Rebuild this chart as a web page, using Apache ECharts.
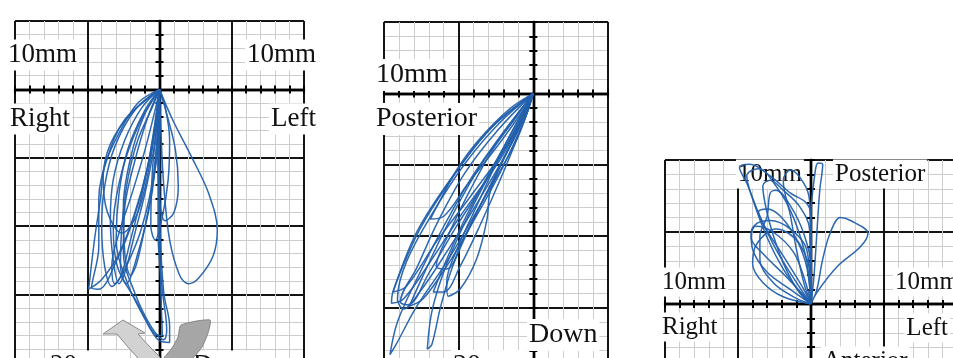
<!DOCTYPE html>
<html>
<head>
<meta charset="utf-8">
<script src="https://cdn.jsdelivr.net/npm/echarts@6/dist/echarts.min.js"></script>
<style>
  html, body { margin: 0; padding: 0; background: #fff; }
  #chart { width: 953px; height: 358px; }
</style>
</head>
<body>
<div id="chart"></div>
<script>
// Mandibular movement traces, in mm from the start point.
// Frontal view: x = right(-)/left(+), y = up(+)/down(-)
const frontalLoops = [
  [[0,0],[-1.5,-1.0],[-2.8,-3.2],[-3.8,-5.6],[-4.1,-8.1],[-4.5,-11.0],[-4.9,-14.6],[-4.0,-13.9],[-2.8,-12.0],[-1.7,-9.0],[-0.8,-5.6],[-0.2,-2.2],[0,0]],
  [[0,0],[-1.7,-1.5],[-3.1,-4.2],[-3.8,-7.1],[-4.0,-10.0],[-3.8,-12.9],[-3.3,-14.4],[-2.7,-13.7],[-2.0,-11.0],[-1.2,-7.6],[-0.5,-3.9],[0,0]],
  [[0,0],[-1.2,-1.3],[-2.4,-3.7],[-3.2,-6.6],[-3.4,-9.5],[-3.2,-12.5],[-2.8,-14.2],[-2.4,-13.4],[-1.7,-10.5],[-0.9,-7.1],[-0.3,-3.7],[0,0]],
  [[0,0],[-1.0,-1.5],[-2.2,-4.4],[-2.8,-7.6],[-3.0,-11.0],[-2.2,-14.2],[-1.0,-16.8],[-0.1,-18.3],[0.7,-18.5],[0.7,-17.3],[0.3,-14.9],[0.05,-10.5],[0,-5.6],[0,0]],
  [[0,0],[-0.8,-2.0],[-1.7,-5.2],[-2.4,-8.6],[-2.5,-12.0],[-1.7,-14.9],[-0.6,-17.3],[0.3,-18.3],[0.5,-17.6],[0.2,-14.7],[-0.1,-10.5],[-0.1,-5.2],[0,0]],
  [[0,0],[-0.5,-1.3],[-1.5,-3.7],[-2.2,-6.6],[-2.6,-10.0],[-2.7,-12.9],[-2.3,-14.2],[-1.5,-12.0],[-0.6,-8.1],[-0.2,-4.4],[0,0]],
  [[0,0],[0.5,-1.8],[1.1,-4.4],[1.3,-7.1],[1.0,-9.0],[0.4,-9.6],[0,-8.0],[-0.1,-4.4],[0,0]],
  [[0,0],[-0.3,-1.5],[-1.0,-4.4],[-1.9,-7.6],[-2.8,-10.5],[-3.3,-12.9],[-3.1,-14.2],[-2.2,-12.7],[-1.2,-10.0],[-0.4,-6.1],[0,0]],
  [[0,0],[0.4,-1.3],[0.7,-3.7],[0.6,-6.6],[0.2,-9.3],[-0.3,-11.0],[-0.6,-10.0],[-0.5,-6.1],[-0.2,-2.7],[0,0]],
  [[0,0],[0.9,-2.2],[2.2,-4.9],[3.4,-7.6],[4.0,-10.3],[3.7,-12.2],[2.7,-13.8],[2.0,-14.2],[1.4,-13.6],[0.7,-11.0],[0.3,-7.1],[0.1,-3.2],[0,0]],
  [[0,0],[-2.0,-1.8],[-3.4,-4.0],[-3.9,-6.5],[-3.6,-9.0],[-2.6,-10.5],[-1.5,-9.0],[-0.6,-5.0],[0,0]],
  [[0,0],[-1.4,-2.5],[-2.6,-6.0],[-3.2,-10.0],[-2.9,-13.0],[-1.6,-15.5],[-0.4,-17.8],[0.2,-18.0],[0.1,-15.0],[0,-10.0],[0,0]],
  [[0,0],[-1.1,-2.0],[-2.0,-5.0],[-2.5,-8.5],[-2.4,-12.0],[-2.0,-13.6],[-1.6,-12.8],[-1.0,-10.0],[-0.4,-6.5],[0,-3.0],[0,0]],
  [[0,0],[-2.4,-2.2],[-3.6,-5.0],[-4.2,-8.0],[-4.2,-11.5],[-4.7,-14.5],[-4.2,-14.6],[-3.0,-12.6],[-1.8,-9.5],[-0.8,-5.5],[0,0]]
];

// Sagittal view: x = posterior(-)/anterior(+), y = up(+)/down(-)
const sagittalLoops = [
  [[0,0],[-2.7,-2.3],[-5.4,-5.8],[-7.8,-9.7],[-9.4,-13.9],[-9.5,-14.7],[-8.7,-14.4],[-7.1,-12.1],[-4.9,-8.6],[-2.2,-4.6],[-0.4,-1.1],[0,0]],
  [[0,0],[-2.2,-2.0],[-4.5,-4.8],[-6.7,-8.3],[-8.5,-11.8],[-9.1,-14.4],[-8.7,-15.1],[-7.6,-13.9],[-5.8,-11.1],[-3.6,-7.4],[-1.3,-3.2],[0,0]],
  [[0,0],[-1.8,-2.5],[-3.8,-5.5],[-5.8,-9.3],[-7.4,-12.8],[-8.3,-14.9],[-7.4,-14.4],[-5.8,-12.1],[-4.2,-9.3],[-2.2,-5.5],[-0.5,-1.6],[0,0]],
  [[0,0],[-0.9,-2.3],[-2.0,-4.6],[-2.9,-6.9],[-3.1,-8.8],[-3.8,-11.6],[-4.9,-13.7],[-5.7,-14.2],[-5.8,-13.2],[-5.1,-10.9],[-3.8,-7.9],[-1.8,-3.4],[0,0]],
  [[0,0],[-1.3,-2.5],[-2.7,-5.1],[-4.5,-8.6],[-6.0,-12.1],[-6.7,-13.9],[-6.0,-13.9],[-4.9,-12.1],[-3.6,-9.3],[-2.0,-5.5],[-0.5,-1.6],[0,0]],
  [[0,0],[-2.0,-2.7],[-4.2,-6.0],[-6.2,-9.7],[-7.8,-13.0],[-9.1,-16.0],[-9.6,-18.3],[-9.2,-17.6],[-7.8,-14.9],[-5.8,-11.8],[-3.6,-7.9],[-1.1,-3.2],[0,0]],
  [[0,0],[-1.3,-2.7],[-3.1,-6.0],[-4.7,-9.3],[-6.0,-12.5],[-6.8,-15.3],[-7.1,-17.9],[-6.8,-17.6],[-6.2,-14.9],[-5.4,-12.1],[-4.0,-8.8],[-2.0,-4.6],[-0.5,-1.3],[0,0]],
  [[0,0],[-3.1,-2.7],[-5.8,-6.5],[-7.6,-9.5],[-8.9,-12.5],[-9.4,-13.9],[-8.5,-13.5],[-6.5,-10.4],[-4.2,-7.2],[-1.6,-3.4],[0,0]],
  [[0,0],[-1.1,-1.6],[-2.7,-3.9],[-4.2,-6.7],[-5.6,-9.7],[-6.5,-12.1],[-5.8,-12.3],[-4.7,-10.2],[-2.9,-6.5],[-1.1,-2.7],[0,0]],
  [[0,0],[-1.6,-1.1],[-3.6,-3.2],[-5.1,-5.3],[-6.2,-7.4],[-6.9,-8.8],[-6.0,-8.6],[-4.5,-6.5],[-2.2,-3.4],[-0.5,-0.9],[0,0]],
  [[0,0],[-2.4,-2.6],[-4.6,-5.6],[-6.4,-9.0],[-7.8,-12.2],[-8.9,-14.6],[-8.4,-14.8],[-7.0,-12.6],[-5.2,-9.4],[-3.0,-5.8],[-1.0,-2.2],[0,0]]
];

// Horizontal view: x = right(-)/left(+), y = posterior(+)/anterior(-)
const horizontalLoops = [
  [[0,0],[0.4,1.0],[0.8,3.1],[1.3,4.9],[2.0,6.0],[2.7,5.8],[3.9,4.9],[3.4,4.0],[1.8,2.6],[0.4,0.8],[0,0]],
  [[0,0],[0.2,1.9],[0.4,4.9],[0.6,7.9],[0.8,9.7],[0.5,9.8],[0.3,9.3],[0.0,6.1],[0,3.0],[0,0]],
  [[0,0],[-1.0,1.5],[-2.4,3.8],[-3.5,6.1],[-4.4,8.4],[-4.9,9.5],[-4.2,9.7],[-2.8,8.9],[-1.4,7.7],[-0.3,7.0],[0,6.1],[0,3.0],[0,0]],
  [[0,0],[-1.4,1.0],[-3.0,2.2],[-4.0,3.8],[-4.1,4.9],[-3.7,5.6],[-2.8,5.8],[-1.4,5.2],[-0.3,3.8],[0,0]],
  [[0,0],[-1.2,0.5],[-2.6,1.5],[-3.5,3.1],[-3.5,4.7],[-3.0,6.1],[-2.8,7.7],[-2.4,7.9],[-1.4,6.8],[-0.5,4.9],[0,2.6],[0,0]],
  [[0,0],[-0.8,0.8],[-1.7,2.4],[-2.4,4.2],[-3.0,6.3],[-3.3,8.2],[-2.8,8.6],[-1.9,7.9],[-0.8,6.8],[-0.1,5.2],[0,0]],
  [[0,0],[-1.9,0.5],[-3.3,1.5],[-4.0,2.8],[-3.7,4.2],[-2.4,5.2],[-0.8,4.2],[0,1.5],[0,0]],
  [[0,0],[-0.5,1.5],[-1.0,3.8],[-1.4,6.1],[-1.9,8.6],[-1.4,9.3],[-0.5,8.4],[-0.1,7.2],[0,3.8],[0,0]],
  [[0,0],[-0.6,1.2],[-2.0,3.5],[-3.2,5.4],[-3.6,6.4],[-3.0,6.6],[-1.6,5.5],[-0.4,3.0],[0,0]],
  [[0,0],[-0.9,1.0],[-2.0,2.6],[-3.0,4.6],[-3.9,7.0],[-4.4,8.9],[-3.6,9.4],[-2.4,8.2],[-1.2,6.0],[-0.3,3.0],[0,0]],
  [[0,0],[-0.4,1.6],[-1.2,3.6],[-2.6,5.0],[-3.8,5.4],[-4.1,4.6],[-3.3,3.5],[-1.8,2.0],[-0.5,0.6],[0,0]]
];

// Axis ranges of each graph-paper panel (mm)
const frontalRange = { x: [-10, 10], y: [-20, 5] };
const sagittalRange = { x: [-10, 5], y: [-20, 5] };
const horizontalRange = { x: [-10, 10], y: [-5, 10] };

// Placement of each panel on the page (px)
const layouts = [
  { left: 15, top: 21, width: 289, height: 342 },
  { left: 384, top: 22, width: 224, height: 357 },
  { left: 665, top: 160, width: 292, height: 216 }
];

const TRACE = '#2260ac';
const FONT = "'Liberation Serif', 'DejaVu Serif', serif";

const ranges = [frontalRange, sagittalRange, horizontalRange];
const loopSets = [frontalLoops, sagittalLoops, horizontalLoops];

const grid = [], xAxis = [], yAxis = [], series = [];

ranges.forEach((r, g) => {
  grid.push(Object.assign({ outerBoundsMode: 'none', containLabel: false, show: false }, layouts[g]));
  const base = g * 3;
  // graph paper: 1 mm minor lines, 5 mm major lines
  const paper = (ext) => ({
    gridIndex: g, type: 'value', min: ext[0], max: ext[1], interval: 5,
    axisLine: { show: false, onZero: false },
    axisTick: { show: false }, axisLabel: { show: false },
    splitLine: { show: true, showMinLine: true, showMaxLine: true, lineStyle: { color: '#141414', width: 2 } },
    minorTick: { show: false, splitNumber: 5 },
    minorSplitLine: { show: true, lineStyle: { color: '#cdcdcd', width: 1 } },
    z: 0
  });
  // origin axes carrying 1 mm ticks on both sides
  const ticks = (ext, inside, other) => ({
    gridIndex: g, type: 'value', min: ext[0], max: ext[1], interval: 1,
    axisLine: { show: true, onZero: true, onZeroAxisIndex: other, lineStyle: { color: '#000', width: 2.4 } },
    axisTick: { show: true, inside: inside, length: 4, lineStyle: { color: '#000', width: 2 } },
    axisLabel: { show: false },
    splitLine: { show: false },
    z: 1
  });
  xAxis.push(paper(r.x), ticks(r.x, false, base + 1), ticks(r.x, true, base + 2));
  yAxis.push(paper(r.y), ticks(r.y, false, base + 1), ticks(r.y, true, base + 2));

  loopSets[g].forEach(pts => {
    series.push({
      type: 'line', xAxisIndex: base, yAxisIndex: base, data: pts,
      showSymbol: false, smooth: 0.35, silent: true, clip: true, z: 5,
      lineStyle: { color: TRACE, width: 1.5, opacity: 0.95 }
    });
  });
});

function label(text, x, y, size, align) {
  return {
    type: 'text', x: x, y: y, z: 3, silent: true,
    style: {
      text: text, font: size + 'px ' + FONT, fill: '#111',
      align: align || 'left', verticalAlign: 'middle',
      backgroundColor: '#fff', padding: [2, 2, 2, 2]
    }
  };
}

const graphic = [
  // frontal panel
  label('10mm', 6, 55, 27), label('Right', 8, 119, 27),
  label('10mm', 318, 55, 27, 'right'), label('Left', 318, 119, 27, 'right'),
  label('20mm', 48, 366, 27), label('Down', 191, 366, 27),
  // sagittal panel
  label('10mm', 374, 75, 28), label('Posterior', 374, 119, 28),
  label('Down', 527, 335, 28), label('20mm', 451, 366, 28),
  // horizontal panel
  label('10mm', 736, 174, 25), label('Posterior', 833, 174, 25),
  label('10mm', 660, 282, 25), label('10mm', 893, 282, 25),
  label('Right', 660, 327, 25), label('Left', 950, 328, 25, 'right'),
  label('Anterior', 821, 361, 25),
  // curved grey arrow
  {
    type: 'polygon', z: 4, silent: true,
    shape: { points: [[181,325],[210,320],[208,333],[202,347],[192,359],[178,368],[160,368],[164,358],[172,348],[178,337]], smooth: 0.2 },
    style: { fill: '#a6a6a6', stroke: '#858585', lineWidth: 1 }
  },
  {
    type: 'polygon', z: 4, silent: true,
    shape: { points: [[117,334],[103,334],[123,320],[145,333],[138,334],[150,347],[159,356],[165,368],[145,368],[137,357],[127,346]] },
    style: { fill: '#d2d2d2', stroke: '#8a8a8a', lineWidth: 1 }
  }
];

const chart = echarts.init(document.getElementById('chart'), null, { renderer: 'canvas' });
chart.setOption({
  backgroundColor: '#fff',
  animation: false,
  grid: grid,
  xAxis: xAxis,
  yAxis: yAxis,
  series: series,
  graphic: { elements: graphic }
});
</script>
</body>
</html>
